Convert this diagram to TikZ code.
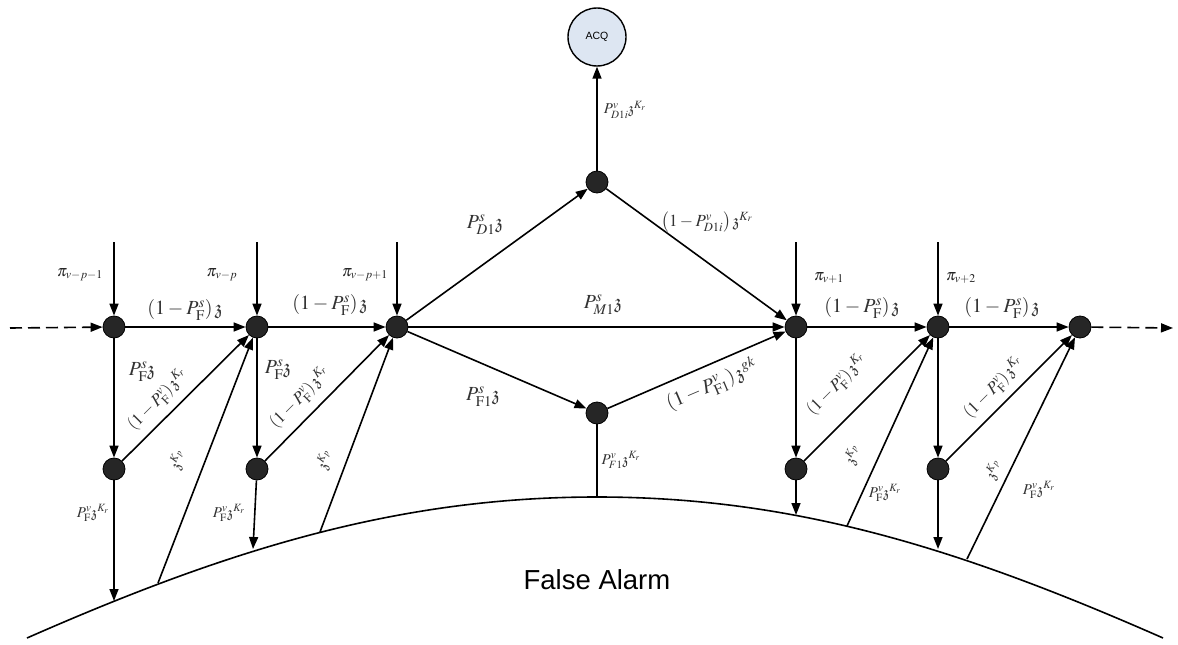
\documentclass[tikz,border=0pt]{standalone}
\usepackage{amssymb}
\usepackage{mathptmx}
\usepackage[no-math]{fontspec}
\newfontfamily\arialf{Liberation Sans}
\usetikzlibrary{arrows.meta}
\definecolor{acqfill}{RGB}{221,230,242}
\newcommand{\zz}{\mathfrak{z}}
\begin{document}
\begin{tikzpicture}[x=1pt,y=-1pt,
  dot/.style={circle,draw=black,fill=black!85,line width=0.8pt,minimum size=22pt,inner sep=0pt},
  conn/.style={line width=1.6pt,-{Triangle[length=12pt,width=9pt]}},
  plain/.style={line width=1.6pt},
  dashconn/.style={line width=1.6pt,dash pattern=on 12pt off 6pt,-{Triangle[length=12pt,width=9pt]}},
  pil/.style={font=\fontsize{16}{18}\selectfont,text=black!85,inner sep=0pt},
  lab/.style={font=\fontsize{20}{22}\selectfont,text=black!80,inner sep=0pt},
  mlab/.style={font=\fontsize{17}{19}\selectfont,text=black!80,inner sep=0pt},
  slab/.style={font=\fontsize{15}{17}\selectfont,text=black!80,inner sep=0pt}]
\useasboundingbox (0,0) rectangle (1178,645);
% main nodes
\node[dot] (A) at (114,327) {};
\node[dot] (B) at (257,327) {};
\node[dot] (C) at (397,327) {};
\node[dot] (D) at (796,327) {};
\node[dot] (E) at (938,327) {};
\node[dot] (F) at (1080,327) {};
\node[dot] (T) at (597,182) {};
\node[dot] (M) at (597,413) {};
\node[dot] (a) at (114,469) {};
\node[dot] (b) at (257,469) {};
\node[dot] (d) at (796,469) {};
\node[dot] (e) at (938,469) {};
\node[circle,draw=black,line width=1.4pt,fill=acqfill,minimum size=58pt,inner sep=0pt,
      font=\arialf\fontsize{10.5}{12}\selectfont] (acq) at (597,37) {ACQ};
% free ends
\coordinate (L) at (10,328);
\coordinate (R) at (1173,328);
\coordinate (tA) at (114,242);
\coordinate (tB) at (257,242);
\coordinate (tC) at (397,242);
\coordinate (tD) at (796,242);
\coordinate (tE) at (938,242);
\coordinate (ca) at (114,601);
\coordinate (cb) at (253,549);
\coordinate (cd) at (796,515);
\coordinate (ce) at (938,549);
\coordinate (cm) at (597,497);
\coordinate (cB) at (158,583);
\coordinate (cC) at (320,532);
\coordinate (cE) at (847,526);
\coordinate (cF) at (967,559);
% curve
\draw[plain] (27,638) .. controls (227,550) and (397,497) .. (597,497)
             .. controls (797,497) and (963,550) .. (1163,638);
% connectors
\draw[dashconn] (L) -- (A);
\draw[dashconn] (F) -- (R);
\draw[conn] (A) -- (B);
\draw[conn] (B) -- (C);
\draw[conn] (C) -- (D);
\draw[conn] (D) -- (E);
\draw[conn] (E) -- (F);
\draw[conn] (tA) -- (A);
\draw[conn] (tB) -- (B);
\draw[conn] (tC) -- (C);
\draw[conn] (tD) -- (D);
\draw[conn] (tE) -- (E);
\draw[conn] (C) -- (T);
\draw[conn] (T) -- (D);
\draw[conn] (C) -- (M);
\draw[conn] (M) -- (D);
\draw[conn] (T) -- (acq);
\draw[plain] (M) -- (cm);
\draw[conn] (A) -- (a);
\draw[conn] (B) -- (b);
\draw[conn] (D) -- (d);
\draw[conn] (E) -- (e);
\draw[conn] (a) -- (ca);
\draw[conn] (b) -- (cb);
\draw[conn] (d) -- (cd);
\draw[conn] (e) -- (ce);
\draw[conn] (a) -- (B);
\draw[conn] (b) -- (C);
\draw[conn] (d) -- (E);
\draw[conn] (e) -- (F);
\draw[conn] (cB) -- (B);
\draw[conn] (cC) -- (C);
\draw[conn] (cE) -- (E);
\draw[conn] (cF) -- (F);
% labels
\node[pil] (l1) at (80,275) {$\pi_{v-p-1}$};
\node[pil] (l2) at (222,275) {$\pi_{v-p}$};
\node[pil] (l3) at (365,275) {$\pi_{v-p+1}$};
\node[pil] (l4) at (829,278) {$\pi_{v+1}$};
\node[pil] (l5) at (961,278) {$\pi_{v+2}$};
\node[lab] (l6) at (185,310) {$\left(1-P_{\mathrm{F}}^{s}\right)\zz$};
\node[lab] (l7) at (330,305) {$\left(1-P_{\mathrm{F}}^{s}\right)\zz$};
\node[lab] (l8) at (862,308) {$\left(1-P_{\mathrm{F}}^{s}\right)\zz$};
\node[lab] (l9) at (1002,308) {$\left(1-P_{\mathrm{F}}^{s}\right)\zz$};
\node[lab] (l10) at (142,372) {$P_{\mathrm{F}}^{s}\zz$};
\node[lab] (l11) at (278,370) {$P_{\mathrm{F}}^{s}\zz$};
\node[mlab,rotate=45] (l12) at (158,400) {$\left(1-P_{\mathrm{F}}^{v}\right)\zz^{K_r}$};
\node[mlab,rotate=45] (l13) at (300,398) {$\left(1-P_{\mathrm{F}}^{v}\right)\zz^{K_r}$};
\node[mlab,rotate=45] (l14) at (837,385) {$\left(1-P_{\mathrm{F}}^{v}\right)\zz^{K_r}$};
\node[mlab,rotate=45] (l15) at (994,388) {$\left(1-P_{\mathrm{F}}^{v}\right)\zz^{K_r}$};
\node[slab,rotate=69] (l16) at (178,460) {$\zz^{K_p}$};
\node[slab,rotate=69] (l17) at (325,460) {$\zz^{K_p}$};
\node[slab,rotate=66] (l18) at (853,455) {$\zz^{K_p}$};
\node[slab,rotate=64] (l19) at (994,470) {$\zz^{K_p}$};
\node[slab] (l20) at (93,513) {$P_{\mathrm{F}}^{v}\zz^{K_r}$};
\node[slab] (l21) at (229,513) {$P_{\mathrm{F}}^{v}\zz^{K_r}$};
\node[slab] (l22) at (885,493) {$P_{\mathrm{F}}^{v}\zz^{K_r}$};
\node[slab] (l23) at (1039,490) {$P_{\mathrm{F}}^{v}\zz^{K_r}$};
\node[lab] (l24) at (485,225) {$P_{D1}^{s}\zz$};
\node[slab] (l25) at (625,110) {$P_{D1i}^{v}\zz^{K_r}$};
\node[mlab] (l26) at (707,222) {$\left(1-P_{D1i}^{v}\right)\zz^{K_r}$};
\node[lab] (l27) at (603,305) {$P_{M1}^{s}\zz$};
\node[lab] (l28) at (483,397) {$P_{\mathrm{F1}}^{s}\zz$};
\node[lab,rotate=23] (l29) at (712,385) {$\left(1-P_{\mathrm{F1}}^{v}\right)\zz^{gk}$};
\node[slab] (l30) at (621,460) {$P_{F1}^{v}\zz^{K_r}$};
\node[font=\arialf\fontsize{27.5}{30}\selectfont] (fa) at (597,580) {False Alarm};
\end{tikzpicture}
\end{document}
